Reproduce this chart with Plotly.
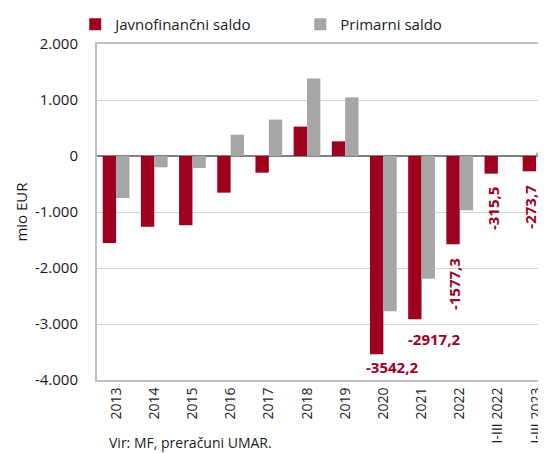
import plotly.graph_objects as go

categories = ["2013", "2014", "2015", "2016", "2017", "2018", "2019", "2020",
              "2021", "2022", "I-III 2022", "I-III 2023"]
javnofinancni = [-1554, -1262, -1238, -655, -298, 525, 262, -3542.2,
                 -2917.2, -1577.3, -315.5, -273.7]
primarni = [-750, -202, -214, 381, 650, 1382, 1048, -2773,
            -2190, -970, 0, 60]
tick_vals = [-4000, -3000, -2000, -1000, 0, 1000, 2000]
tick_text = ["-4.000", "-3.000", "-2.000", "-1.000", "0", "1.000", "2.000"]
x_tick_text = ["2013", "2014", "2015", "2016", "2017", "2018", "2019", "2020",
               "2021", "2022", "I-III 2022", "I-III 2023"]
labelled = ["2020", "2021", "2022", "I-III 2022", "I-III 2023"]

RED = "#9e0020"
GRAY = "#a6a6a6"
FONT = "Open Sans"
TXT = "#1a1a1a"

fig = go.Figure()
fig.add_trace(go.Bar(x=categories, y=javnofinancni, name="Javnofinančni saldo",
                     marker=dict(color=RED, line=dict(width=0))))
fig.add_trace(go.Bar(x=categories, y=primarni, name="Primarni saldo",
                     marker=dict(color=GRAY, line=dict(width=0))))

# data labels
label_style = {
    "2020": dict(angle=0, dx=0.23, gap=1),
    "2021": dict(angle=0, dx=0.33, gap=8),
    "2022": dict(angle=-90, dx=-0.13, gap=12),
    "I-III 2022": dict(angle=-90, dx=-0.13, gap=11),
    "I-III 2023": dict(angle=-90, dx=-0.15, gap=11),
}
for cat in labelled:
    i = categories.index(cat)
    v = javnofinancni[i]
    st = label_style[cat]
    fig.add_annotation(
        x=i + st["dx"], y=v, xref="x", yref="y",
        text=f"{v:.1f}".replace(".", ","),
        textangle=st["angle"], showarrow=False,
        xanchor="center", yanchor="top", yshift=-st["gap"],
        font=dict(family=FONT, size=15, color=RED, weight="bold"),
    )

fig.add_annotation(
    text="Vir: MF, preračuni UMAR.", xref="paper", yref="paper",
    x=0, y=0, xanchor="left", yanchor="middle", xshift=10, yshift=-62,
    showarrow=False, font=dict(family=FONT, size=14, color=TXT),
)

fig.update_layout(
    width=538, height=445,
    margin=dict(l=89, r=0, t=36, b=73, autoexpand=False),
    paper_bgcolor="white", plot_bgcolor="white",
    barmode="group", bargap=0.3, bargroupgap=0,
    font=dict(family=FONT, size=15, color=TXT),
    showlegend=True,
    legend=dict(orientation="h", xref="container", yref="container",
                x=0.125, y=1.0, xanchor="left", yanchor="top",
                entrywidth=180, itemwidth=30,
                font=dict(family=FONT, size=15, color=TXT),
                bgcolor="rgba(0,0,0,0)", tracegroupgap=0),
    xaxis=dict(
        type="category", range=[-0.5, 11.26],
        tickangle=-90, tickfont=dict(family=FONT, size=14, color=TXT),
        tickvals=categories, ticktext=x_tick_text,
        showline=True, linecolor="#bfbfbf", linewidth=2, mirror=True,
        showgrid=False, ticks="", fixedrange=True,
    ),
    yaxis=dict(
        range=[-4000, 2000], tickvals=tick_vals, ticktext=tick_text,
        tickfont=dict(family=FONT, size=15, color=TXT),
        showgrid=True, gridcolor="#d4d4d4", gridwidth=1,
        zeroline=True, zerolinecolor="#7f7f7f", zerolinewidth=1.5,
        showline=True, linecolor="#bfbfbf", linewidth=2, mirror=True,
        ticks="", ticklabelstandoff=14,
        title=dict(text="mio EUR", font=dict(family=FONT, size=15, color=TXT),
                   standoff=4),
    ),
)

fig.write_html("out.html")
